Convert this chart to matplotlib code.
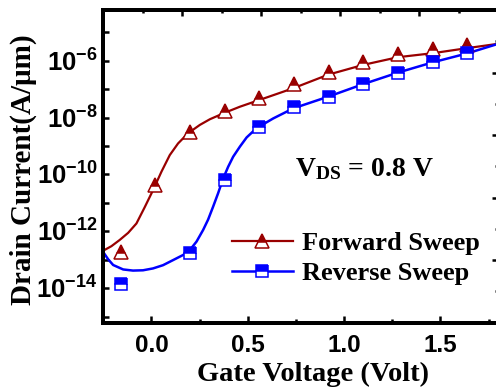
import numpy as np
import matplotlib
matplotlib.use("Agg")
import matplotlib.pyplot as plt
from matplotlib.ticker import FixedLocator, FuncFormatter, NullFormatter, MultipleLocator

plt.rcParams["mathtext.fontset"] = "custom"
plt.rcParams["mathtext.rm"] = "Liberation Sans:bold"
plt.rcParams["mathtext.bf"] = "Liberation Sans:bold"
plt.rcParams["mathtext.sf"] = "Liberation Serif:bold"

# measured points (gate voltage in V, drain current in A/um)
v_fwd = [-0.16, 0.02, 0.20, 0.38, 0.56, 0.74, 0.92, 1.10, 1.28, 1.46, 1.64]
i_fwd = [1.9e-13, 4.3e-11, 3.2e-9, 1.7e-8, 5.0e-8, 1.5e-7, 4.1e-7, 8.7e-7, 1.74e-6, 2.5e-6, 3.5e-6]

v_rev = [-0.16, 0.20, 0.38, 0.56, 0.74, 0.92, 1.10, 1.28, 1.46, 1.64]
i_rev = [1.4e-14, 1.8e-13, 6.5e-11, 4.8e-9, 2.3e-8, 5.4e-8, 1.5e-7, 3.8e-7, 8.7e-7, 1.8e-6]

# model curves
v_fwd_fit = [-0.251, -0.208, -0.165, -0.121, -0.078, -0.035, 0.008, 0.052, 0.095, 0.138,
             0.19, 0.251, 0.303, 0.381, 0.459, 0.563, 0.736, 0.917, 1.10, 1.28, 1.46, 1.64, 1.80]
i_fwd_fit = [2.09e-13, 3.02e-13, 5.0e-13, 8.9e-13, 1.9e-12, 7.1e-12, 2.8e-11, 1.26e-10, 4.8e-10, 1.23e-9,
             2.8e-9, 5.5e-9, 8.7e-9, 1.48e-8, 2.4e-8, 4.2e-8, 1.07e-7, 3.2e-7, 7.1e-7, 1.32e-6, 1.82e-6, 2.75e-6, 3.9e-6]

v_rev_fit = [-0.251, -0.225, -0.199, -0.147, -0.096, -0.044, 0.008, 0.060, 0.112, 0.164,
             0.199, 0.234, 0.268, 0.294, 0.320, 0.346, 0.372, 0.398, 0.424, 0.459, 0.494, 0.545,
             0.632, 0.736, 0.917, 1.10, 1.28, 1.46, 1.64, 1.80]
i_rev_fit = [1.9e-13, 1.05e-13, 6.6e-14, 4.6e-14, 4.2e-14, 4.3e-14, 5.0e-14, 6.5e-14, 9.8e-14, 1.48e-13,
             2.2e-13, 4.4e-13, 1.12e-12, 2.6e-12, 7.4e-12, 2.2e-11, 7.2e-11, 1.86e-10, 4.2e-10, 9.5e-10, 2.0e-9, 4.2e-9,
             9.3e-9, 2.1e-8, 5.4e-8, 1.5e-7, 3.8e-7, 8.7e-7, 1.8e-6, 3.9e-6]

red = "#990000"
blue = "#0000ff"

fig = plt.figure(figsize=(4.96, 3.92), dpi=100)
ax = fig.add_axes([0.2083, 0.1768, 0.7962, 0.7977])

ax.plot(v_fwd_fit, i_fwd_fit, color=red, lw=1.6, zorder=2)
ax.plot(v_rev_fit, i_rev_fit, color=blue, lw=1.8, zorder=2)
ax.plot(v_fwd, i_fwd, ls="none", marker="^", ms=10, mew=1.1, color=red,
        fillstyle="top", markerfacecoloralt="white", zorder=3)
ax.plot(v_rev, i_rev, ls="none", marker="s", ms=8, mew=1.1, color=blue,
        fillstyle="top", markerfacecoloralt="white", zorder=3)

# legend handles: line + half-filled marker
h1, = ax.plot([], [], color=red, lw=1.6, marker="^", ms=10, mew=1.1,
              fillstyle="top", markerfacecoloralt="white")
h2, = ax.plot([], [], color=blue, lw=1.8, marker="s", ms=8, mew=1.1,
              fillstyle="top", markerfacecoloralt="white")
leg = ax.legend([h1, h2], ["Forward Sweep", "Reverse Sweep"], loc="center left",
                bbox_to_anchor=(0.326, 0.205), frameon=False, borderpad=0, borderaxespad=0,
                handlelength=2.3, handletextpad=0.35, labelspacing=0.25,
                prop={"family": "Liberation Serif", "weight": "bold", "size": 19})

ax.set_yscale("log")
ax.set_xlim(-0.25, 1.8)
ax.set_ylim(6.2e-16, 6.0e-5)

ax.yaxis.set_major_locator(FixedLocator([1e-14, 1e-12, 1e-10, 1e-8, 1e-6]))
ax.yaxis.set_minor_locator(FixedLocator([1e-15, 1e-13, 1e-11, 1e-9, 1e-7, 1e-5]))
ax.yaxis.set_major_formatter(FuncFormatter(lambda y, p: r"$\mathbf{10^{%d}}$" % round(np.log10(y))))
ax.yaxis.set_minor_formatter(NullFormatter())
ax.xaxis.set_major_locator(MultipleLocator(0.5))
ax.xaxis.set_minor_locator(MultipleLocator(0.25))
ax.xaxis.set_major_formatter(FuncFormatter(lambda x, p: "%.1f" % x))

for lab in ax.get_xticklabels():
    lab.set_fontfamily("Liberation Sans")
    lab.set_fontweight("bold")
ax.tick_params(axis="x", which="major", direction="in", length=5, width=1.8, labelsize=17.5, pad=8)
ax.tick_params(axis="x", which="minor", direction="in", length=3, width=1.8)
ax.tick_params(axis="y", which="both", direction="in", length=4, width=1.8, labelsize=18.5, pad=4)
ax.tick_params(top=False, right=False)
for sp in ax.spines.values():
    sp.set_linewidth(2.8)

# top and right frames carry their own plain tick marks
axt = ax.twiny()
axt.set_xlim(0, 10)
axt.xaxis.set_major_locator(MultipleLocator(2))
axt.xaxis.set_minor_locator(MultipleLocator(1))
axt.tick_params(axis="x", which="major", direction="in", length=4, width=1.8, labeltop=False)
axt.tick_params(axis="x", which="minor", direction="in", length=2.5, width=1.8)
axr = ax.twinx()
axr.set_ylim(0, 10)
axr.yaxis.set_major_locator(MultipleLocator(2))
axr.yaxis.set_minor_locator(MultipleLocator(1))
axr.tick_params(axis="y", which="major", direction="in", length=4, width=1.8, labelright=False)
axr.tick_params(axis="y", which="minor", direction="in", length=2.5, width=1.8)
for a in (axt, axr):
    for sp in a.spines.values():
        sp.set_linewidth(2.8)

ax.set_xlabel("Gate Voltage (Volt)", fontfamily="Liberation Serif", fontweight="bold", fontsize=20.5)
ax.xaxis.set_label_coords(0.53, -0.125)
ax.set_ylabel("Drain Current(A/\u03bcm)", fontfamily="Liberation Serif", fontweight="bold", fontsize=21)
ax.yaxis.set_label_coords(-0.168, 0.49)

ax.text(0.485, 0.49, r"$\mathsf{V_{DS}}$ = 0.8 V", transform=ax.transAxes,
        fontfamily="Liberation Serif", fontweight="bold", fontsize=20, va="center", ha="left")

fig.savefig("out.png", dpi=100)
